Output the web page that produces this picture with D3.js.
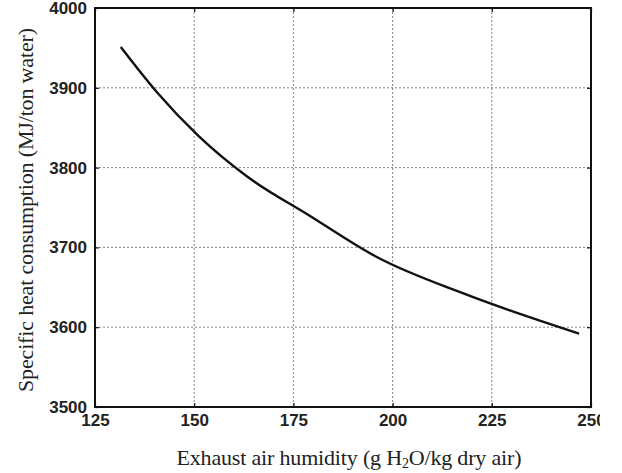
<!DOCTYPE html>
<html>
<head>
<meta charset="utf-8">
<script src="https://cdn.jsdelivr.net/npm/d3@7"></script>
<style>
  body { margin: 0; background: #fff; }
  .tick text { font-family: "Liberation Sans", Arial, sans-serif; font-weight: bold; font-size: 17px; fill: #222; }
  .title { font-family: "Liberation Serif", "Times New Roman", serif; font-size: 22px; fill: #222; }
</style>
</head>
<body>
<script>
// humidity (g H2O/kg dry air) vs specific heat consumption (MJ/ton water)
var humidity = [131.5, 140.5, 151, 163, 179, 196, 218, 247];
var heat = [3951, 3895, 3840, 3790, 3740, 3688, 3642, 3592];
var xTicks = [125, 150, 175, 200, 225, 250];
var yTicks = [3500, 3600, 3700, 3800, 3900, 4000];

var data = humidity.map(function(h, i) { return {x: h, y: heat[i]}; });

var margin = {top: 8, right: 31, bottom: 66, left: 95},
    width = 622 - margin.left - margin.right,
    height = 473 - margin.top - margin.bottom;

var x = d3.scaleLinear().domain([125, 250]).range([0, width]);
var y = d3.scaleLinear().domain([3500, 4000]).range([height, 0]);
var fmt = d3.format("d");

var svg = d3.select("body").append("svg")
    .attr("width", 622)
    .attr("height", 473);

// the right-most tick label runs off the edge of the figure
svg.append("clipPath").attr("id", "edge")
  .append("rect").attr("x", -100).attr("y", -20).attr("width", 605).attr("height", 80);

var g = svg.append("g")
    .attr("transform", "translate(" + margin.left + "," + margin.top + ")");

// dotted grid
g.append("g").selectAll("line.vg")
    .data(xTicks.slice(1, -1))
  .enter().append("line")
    .attr("x1", function(d) { return x(d); })
    .attr("x2", function(d) { return x(d); })
    .attr("y1", 0).attr("y2", height)
    .style("stroke", "#666").style("stroke-width", 1)
    .style("stroke-dasharray", "2,2").style("opacity", 0.8);

g.append("g").selectAll("line.hg")
    .data(yTicks.slice(1, -1))
  .enter().append("line")
    .attr("x1", 0).attr("x2", width)
    .attr("y1", function(d) { return y(d); })
    .attr("y2", function(d) { return y(d); })
    .style("stroke", "#666").style("stroke-width", 1)
    .style("stroke-dasharray", "2,2").style("opacity", 0.8);

// axes with inward ticks
g.append("g")
    .attr("transform", "translate(0," + height + ")")
    .attr("clip-path", "url(#edge)")
    .call(d3.axisBottom(x).tickValues(xTicks).tickFormat(fmt)
      .tickSizeInner(-4).tickSizeOuter(0).tickPadding(7));

g.append("g")
    .call(d3.axisLeft(y).tickValues(yTicks).tickFormat(fmt)
      .tickSizeInner(-4).tickSizeOuter(0).tickPadding(8));

g.append("g")
    .call(d3.axisTop(x).tickValues(xTicks).tickSizeInner(-4).tickSizeOuter(0).tickFormat(""));
g.append("g")
    .attr("transform", "translate(" + width + ",0)")
    .call(d3.axisRight(y).tickValues(yTicks).tickSizeInner(-4).tickSizeOuter(0).tickFormat(""));

g.selectAll(".domain").remove();
g.selectAll(".tick line").style("stroke", "#111").style("stroke-width", 1.2);

// frame
g.append("rect")
    .attr("width", width).attr("height", height)
    .style("fill", "none").style("stroke", "#111").style("stroke-width", 2);

// curve
var line = d3.line()
    .curve(d3.curveMonotoneX)
    .x(function(d) { return x(d.x); })
    .y(function(d) { return y(d.y); });

g.append("path")
    .datum(data)
    .attr("d", line)
    .style("fill", "none")
    .style("stroke", "#111")
    .style("stroke-width", 2.4)
    .style("stroke-linejoin", "round");

// axis titles
var xt = svg.append("text")
    .attr("class", "title")
    .attr("x", 349).attr("y", 465)
    .attr("textLength", 345)
    .style("text-anchor", "middle");
xt.append("tspan").text("Exhaust air humidity (g H");
xt.append("tspan").attr("dy", 3).style("font-size", "14px").text("2");
xt.append("tspan").attr("dy", -3).text("O/kg dry air)");

svg.append("text")
    .attr("class", "title")
    .attr("transform", "rotate(-90)")
    .attr("x", -210).attr("y", 33)
    .attr("textLength", 364)
    .style("text-anchor", "middle")
    .text("Specific heat consumption (MJ/ton water)");
</script>
</body>
</html>
